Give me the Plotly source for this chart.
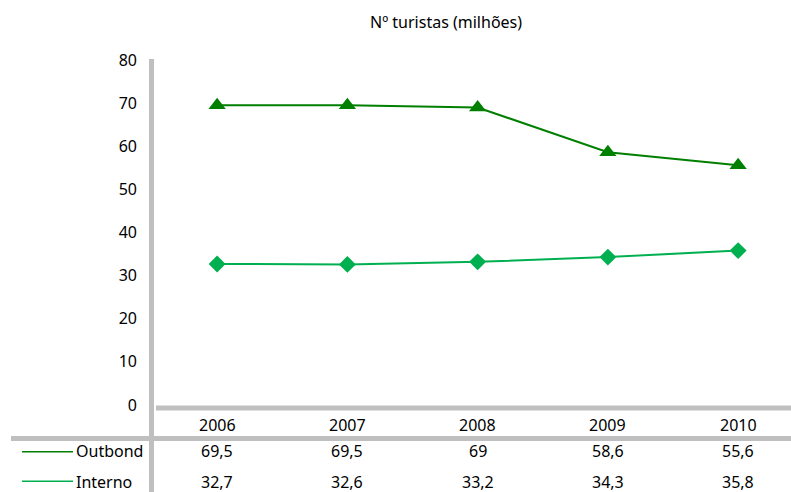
import plotly.graph_objects as go

years = ["2006", "2007", "2008", "2009", "2010"]
outbond = [69.5, 69.5, 69.0, 58.6, 55.6]
interno = [32.7, 32.6, 33.2, 34.3, 35.8]
outbond_labels = ["69,5", "69,5", "69", "58,6", "55,6"]
interno_labels = ["32,7", "32,6", "33,2", "34,3", "35,8"]
y_ticks = [0, 10, 20, 30, 40, 50, 60, 70, 80]

W, H = 791, 492
L, R, T, B = 152, 0, 60, 87
PW, PH = W - L - R, H - T - B

def px(x):
    return (x - L) / PW

def py(y):
    return (H - B - y) / PH

FONT = "Noto Sans"
C_OUT = "#007F00"
C_INT = "#00B050"
GRAY = "#BFBFBF"

xs = list(range(len(years)))

fig = go.Figure()
fig.add_trace(go.Scatter(
    x=xs, y=outbond, mode="lines+markers", name="Outbond",
    line=dict(color=C_OUT, width=2),
    marker=dict(symbol="triangle-up", size=15, color=C_OUT),
))
fig.add_trace(go.Scatter(
    x=xs, y=interno, mode="lines+markers", name="Interno",
    line=dict(color=C_INT, width=2),
    marker=dict(symbol="diamond", size=13, color=C_INT),
))

shapes = [
    dict(type="line", xref="paper", yref="paper", x0=px(151.5), x1=px(151.5),
         y0=py(492), y1=py(59), line=dict(color=GRAY, width=5)),
    dict(type="line", xref="paper", yref="paper", x0=px(156), x1=1.02,
         y0=py(408), y1=py(408), line=dict(color=GRAY, width=5)),
    dict(type="line", xref="paper", yref="paper", x0=px(11), x1=1.02,
         y0=py(438.5), y1=py(438.5), line=dict(color=GRAY, width=5)),
    dict(type="line", xref="paper", yref="paper", x0=px(22), x1=px(73),
         y0=py(451.7), y1=py(451.7), line=dict(color=C_OUT, width=1.5)),
    dict(type="line", xref="paper", yref="paper", x0=px(22), x1=px(73),
         y0=py(481.3), y1=py(481.3), line=dict(color=C_INT, width=1.5)),
]

annotations = [
    dict(text="Nº turistas (milhões)", xref="paper", yref="paper",
         x=px(446), y=py(22), showarrow=False, xanchor="center", yanchor="middle",
         font=dict(size=16, family=FONT, color="#000000")),
    dict(text="Outbond", xref="paper", yref="paper", x=px(74), y=py(451.5),
         showarrow=False, xanchor="left", yanchor="middle",
         font=dict(size=16, family=FONT, color="#000000")),
    dict(text="Interno", xref="paper", yref="paper", x=px(74), y=py(481.5),
         showarrow=False, xanchor="left", yanchor="middle",
         font=dict(size=16, family=FONT, color="#000000")),
]
for i, yr in enumerate(years):
    annotations.append(dict(text=yr, xref="x", yref="paper", x=xs[i], y=py(425),
                            showarrow=False, xanchor="center", yanchor="middle",
                            font=dict(size=16, family=FONT, color="#000000")))
    annotations.append(dict(text=outbond_labels[i], xref="x", yref="paper", x=xs[i], y=py(451.5),
                            showarrow=False, xanchor="center", yanchor="middle",
                            font=dict(size=16, family=FONT, color="#000000")))
    annotations.append(dict(text=interno_labels[i], xref="x", yref="paper", x=xs[i], y=py(481.5),
                            showarrow=False, xanchor="center", yanchor="middle",
                            font=dict(size=16, family=FONT, color="#000000")))

band = 130.25
fig.update_layout(
    width=W, height=H,
    margin=dict(l=L, r=R, t=T, b=B, pad=0),
    paper_bgcolor="white", plot_bgcolor="white",
    showlegend=False,
    shapes=shapes,
    annotations=annotations,
    font=dict(family=FONT, size=16, color="#000000"),
    xaxis=dict(range=[-0.5, -0.5 + PW / band], showgrid=False, zeroline=False,
               showline=False, showticklabels=False, ticks="", fixedrange=True),
    yaxis=dict(range=[0, 80], tickvals=y_ticks, ticktext=[str(v) for v in y_ticks],
               showgrid=False, zeroline=False, showline=False, ticks="",
               ticklabelstandoff=14, tickfont=dict(size=16, family=FONT, color="#000000"),
               fixedrange=True),
)

fig.write_html("out.html")
